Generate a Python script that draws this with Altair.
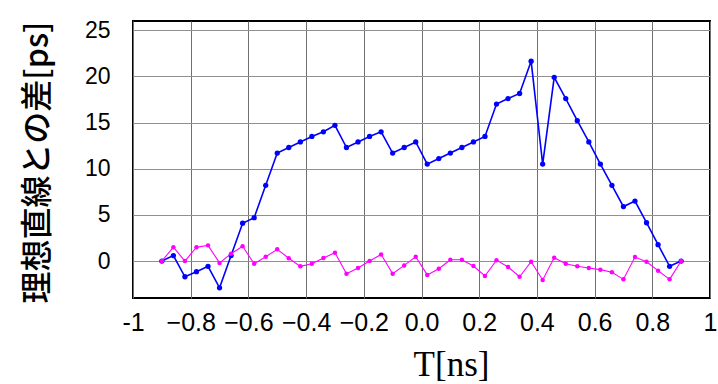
import altair as alt
import pandas as pd

t = [round(-0.9 + 0.04 * i, 2) for i in range(46)]
blue = [0, 0.6, -1.7, -1.15, -0.57, -2.9, 0.6, 4.1, 4.7, 8.2,
        11.7, 12.3, 12.9, 13.5, 14.0, 14.7, 12.3, 12.9, 13.5, 14.0,
        11.7, 12.3, 12.9, 10.5, 11.1, 11.7, 12.3, 12.9, 13.5, 17.0,
        17.6, 18.15, 21.65, 10.5, 19.9, 17.6, 15.2, 12.9, 10.5, 8.2,
        5.9, 6.5, 4.15, 1.77, -0.57, 0]
magenta = [0, 1.5, 0, 1.5, 1.7, -0.2, 0.8, 1.6, -0.3, 0.47,
           1.27, 0.3, -0.57, -0.3, 0.33, 0.9, -1.37, -0.75, 0, 0.72,
           -1.37, -0.47, 0.47, -1.5, -0.83, 0.14, 0.14, -0.54, -1.62, 0.1,
           -0.65, -1.7, -0.07, -2.05, 0.37, -0.3, -0.57, -0.75, -0.93, -1.22,
           -1.98, 0.43, -0.07, -1.04, -1.98, 0]
x_ticks = [-1, -0.8, -0.6, -0.4, -0.2, 0, 0.2, 0.4, 0.6, 0.8, 1]
y_ticks = [0, 5, 10, 15, 20, 25]

df_b = pd.DataFrame({"t": t, "v": blue})
df_m = pd.DataFrame({"t": t, "v": magenta})

xscale = alt.Scale(domain=[-1, 1], nice=False, zero=False)
yscale = alt.Scale(domain=[-4, 26], nice=False, zero=False)

xaxis = alt.Axis(
    values=x_ticks, title="T[ns]", grid=True, gridColor="#707070", gridWidth=1,
    domain=False, ticks=False, labelPadding=12, labelFontSize=25,
    labelFont="Liberation Sans", labelColor="black",
    labelExpr="datum.value == -1 ? '-1' : (datum.value == 1 ? '1' : format(datum.value, '.1f'))",
    titleFont="Liberation Serif", titleFontSize=35, titleFontWeight="normal",
    titleColor="black", titleX=318, titleY=66, titleAlign="center", titleBaseline="middle",
    labelFlush=False, labelOverlap=False,
)
yaxis = alt.Axis(
    values=y_ticks, title="理想直線との差[ps]", grid=True, gridColor="#909090", gridWidth=1,
    domain=False, ticks=False, labelPadding=23, labelFontSize=23,
    labelFont="Liberation Sans", labelColor="black",
    titleFont="Noto Sans CJK JP", titleFontSize=32, titleFontWeight=500,
    titleColor="black", titleX=-96, titleY=141, titleAngle=-90,
    titleAlign="center", titleBaseline="middle", labelFlush=False, labelOverlap=False,
)

line_b = alt.Chart(df_b).mark_line(color="#0000FF", strokeWidth=1.6).encode(
    x=alt.X("t:Q", scale=xscale, axis=xaxis),
    y=alt.Y("v:Q", scale=yscale, axis=yaxis),
)
pts_b = alt.Chart(df_b).mark_circle(color="#0000FF", size=28, opacity=1).encode(
    x=alt.X("t:Q", scale=xscale), y=alt.Y("v:Q", scale=yscale)
)
line_m = alt.Chart(df_m).mark_line(color="#FF00FF", strokeWidth=1.1).encode(
    x=alt.X("t:Q", scale=xscale), y=alt.Y("v:Q", scale=yscale)
)
pts_m = alt.Chart(df_m).mark_circle(color="#FF00FF", size=20, opacity=1).encode(
    x=alt.X("t:Q", scale=xscale), y=alt.Y("v:Q", scale=yscale)
)

chart = alt.layer(line_b, pts_b, line_m, pts_m).properties(
    width=577, height=277,
    autosize=alt.AutoSizeParams(type="none"),
    padding={"left": 133, "top": 21, "right": 8, "bottom": 86},
    background="white",
).configure_view(stroke="black", strokeWidth=2)

chart.save("out.html", embed_options={"renderer": "svg", "actions": False})
